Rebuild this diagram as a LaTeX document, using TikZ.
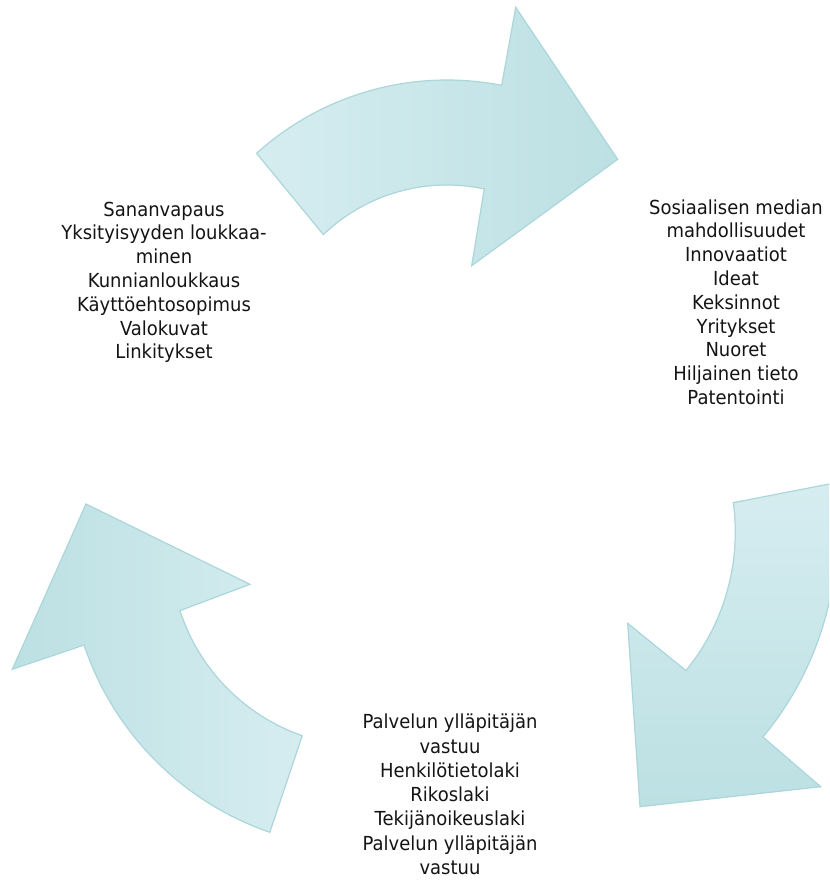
\documentclass[tikz,border=0pt]{standalone}
\usepackage{fontspec}
\newfontfamily\lblfont{DejaVu Sans}[FakeStretch=0.93]
\definecolor{arrowlight}{HTML}{D6EDF0}
\definecolor{arrowdark}{HTML}{BCE0E3}
\definecolor{arrowedge}{HTML}{ABD6DA}
\tikzset{
  cyclearrow/.style={draw=arrowedge, line width=0.9pt, line join=miter},
  lbl/.style={font=\lblfont\fontsize{14.5pt}{17.85pt}\selectfont, align=center, anchor=base, inner sep=0pt, text=black!92}
}
\begin{document}
\begin{tikzpicture}[x=0.75pt,y=-0.75pt]
\useasboundingbox (0,0) rectangle (829,885);
\clip (0,0) rectangle (829,885);
% top arrow
\path[cyclearrow, left color=arrowlight, right color=arrowdark]
  plot[domain=-132.1:-78.9, samples=50] ({447+284*cos(\x)},{364+284*sin(\x)})
  -- (515.7,7.3) -- (617.7,159.3) -- (471.7,265.7)
  -- plot[domain=-78:-133.7, samples=50] ({447+179*cos(\x)},{364+179*sin(\x)})
  -- cycle;
% right arrow
\path[cyclearrow, top color=arrowlight, bottom color=arrowdark]
  plot[domain=-8.74:39.7, samples=50] ({516+321*cos(\x)},{532+321*sin(\x)})
  -- (820.7,786.7) -- (640,806.7) -- (627.7,623.3)
  -- plot[domain=39.2:-7.7, samples=50] ({516+219.3*cos(\x)},{532+219.3*sin(\x)})
  -- cycle;
% left arrow
\path[cyclearrow, left color=arrowdark, right color=arrowlight]
  plot[domain=109.05:161.4, samples=50] ({367.4+299*cos(\x)},{549.7+299*sin(\x)})
  -- (12.3,669.3) -- (86,504) -- (250,584.3)
  -- plot[domain=162:109.3, samples=50] ({367.4+197.1*cos(\x)},{549.7+197.1*sin(\x)})
  -- cycle;
% texts (anchor = baseline of the last line)
\node[lbl] (leftlbl) at (164,358.8) {Sananvapaus\\Yksityisyyden loukkaa-\\minen\\Kunnianloukkaus\\Käyttöehtosopimus\\Valokuvat\\Linkitykset};
\node[lbl] (rightlbl) at (736,404.4) {Sosiaalisen median\\mahdollisuudet\\Innovaatiot\\Ideat\\Keksinnot\\Yritykset\\Nuoret\\Hiljainen tieto\\Patentointi};
\node[lbl, font=\lblfont\fontsize{14.5pt}{18.2pt}\selectfont] (bottomlbl) at (450,874.5) {Palvelun ylläpitäjän\\vastuu\\Henkilötietolaki\\Rikoslaki\\Tekijänoikeuslaki\\Palvelun ylläpitäjän\\vastuu};
\end{tikzpicture}
\end{document}
